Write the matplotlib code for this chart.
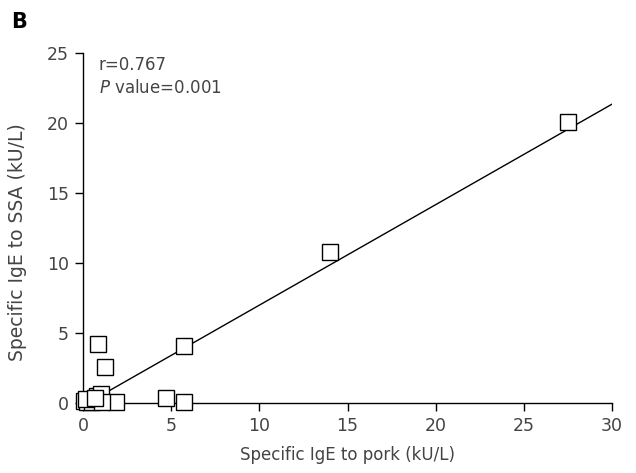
import matplotlib.pyplot as plt
import numpy as np

# specific IgE values (kU/L)
pork = [27.5, 14.0, 5.7, 0.85, 1.25, 4.7, 5.75, 1.85,
        0.8, 1.0, 0.05, 0.25, 0.5, 1.1, 0.15, 0.7]
ssa = [20.1, 10.8, 4.1, 4.2, 2.55, 0.37, 0.07, 0.07,
       0.5, 0.62, 0.15, 0.05, 0.05, 0.1, 0.3, 0.35]

# regression line
fit_x = [1.35, 30.0]
slope = 0.718
intercept = -0.19

xticks = [0, 5, 10, 15, 20, 25, 30]
yticks = [0, 5, 10, 15, 20, 25]

txt = "#444444"
plt.rcParams['font.family'] = ['DejaVu Sans']

fig = plt.figure(figsize=(6.36, 4.73), dpi=100)
ax = fig.add_axes([0.1305, 0.148, 0.832, 0.740])

fx = np.array(fit_x)
ax.plot(fx, intercept + slope * fx, color="black", linewidth=1.0, zorder=2)
ax.plot(pork, ssa, linestyle="none", marker="s", markersize=11.5,
        markerfacecolor="white", markeredgecolor="black",
        markeredgewidth=1.0, clip_on=False, zorder=3)

ax.set_xlim(0, 30)
ax.set_ylim(0, 25)
ax.set_xticks(xticks)
ax.set_yticks(yticks)
for s in ["top", "right"]:
    ax.spines[s].set_visible(False)
for s in ["left", "bottom"]:
    ax.spines[s].set_linewidth(1.0)
ax.tick_params(direction="out", length=6, width=1.0, labelsize=12.5,
               labelcolor=txt, pad=4)

ax.set_xlabel("Specific IgE to pork (kU/L)", fontsize=12, color=txt, labelpad=8)
ax.set_ylabel("Specific IgE to SSA (kU/L)", fontsize=13.5, color=txt, labelpad=6)
ax.yaxis.set_label_coords(-0.105, 0.46)

ax.text(0.03, 0.99, "r=0.767", transform=ax.transAxes, fontsize=12,
        color=txt, va="top")
ax.text(0.03, 0.925, r"$\it{P}$ value=0.001", transform=ax.transAxes,
        fontsize=12, color=txt, va="top")

fig.text(0.018, 0.975, "B", fontsize=15, fontweight="bold", va="top")

fig.savefig("out.png", dpi=100)
